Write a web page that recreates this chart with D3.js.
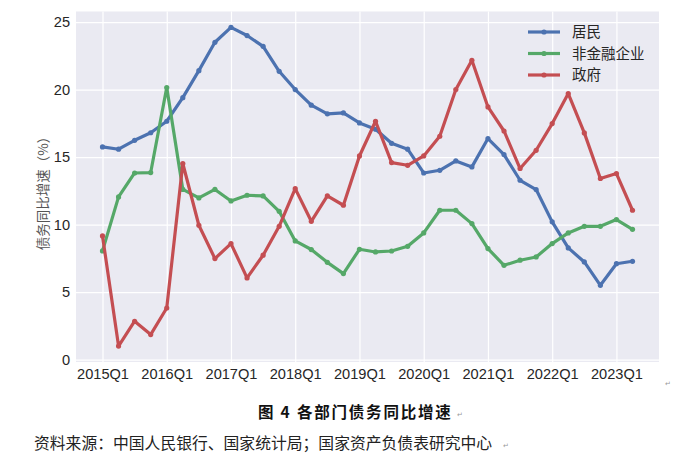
<!DOCTYPE html>
<html>
<head>
<meta charset="utf-8">
<script src="https://cdn.jsdelivr.net/npm/d3@7"></script>
<style>
  body { margin: 0; background: #fff; }
  svg { display: block; }
</style>
</head>
<body>
<div id="container"></div>
<script>
// quarters 2015Q1 .. 2023Q2
const quarters = [];
for (let y = 2015; y <= 2023; y++) {
    for (let q = 1; q <= 4; q++) {
        if (y === 2023 && q > 2) break;
        quarters.push(y + "Q" + q);
    }
}
const tickLabels = ["2015Q1", "2016Q1", "2017Q1", "2018Q1", "2019Q1", "2020Q1", "2021Q1", "2022Q1", "2023Q1"];
const yTicks = [0, 5, 10, 15, 20, 25];

// 居民
const household = [15.75, 15.58, 16.24, 16.8, 17.65, 19.4, 21.4, 23.5, 24.6, 24.0, 23.2, 21.35,
    20.0, 18.84, 18.2, 18.27, 17.53, 17.06, 16.02, 15.58, 13.82, 14.02, 14.71, 14.27,
    16.37, 15.18, 13.28, 12.59, 10.2, 8.27, 7.23, 5.5, 7.1, 7.28];
// 非金融企业
const corporate = [8.05, 12.05, 13.82, 13.85, 20.15, 12.6, 11.97, 12.6, 11.75, 12.17, 12.12, 10.98,
    8.79, 8.15, 7.2, 6.37, 8.17, 7.97, 8.04, 8.39, 9.38, 11.06, 11.06, 10.07,
    8.22, 6.98, 7.36, 7.6, 8.59, 9.38, 9.87, 9.87, 10.37, 9.65];
// 政府
const government = [9.16, 1.0, 2.84, 1.85, 3.82, 14.52, 9.95, 7.48, 8.59, 6.05, 7.73, 9.87,
    12.66, 10.24, 12.12, 11.43, 15.08, 17.65, 14.59, 14.39, 15.08, 16.54, 20.0, 22.17,
    18.71, 16.93, 14.15, 15.5, 17.48, 19.7, 16.79, 13.41, 13.78, 11.06];

const seriesNames = ["居民", "非金融企业", "政府"];
const seriesColors = ["#4C72B0", "#55A868", "#C44E52"];
const series = [household, corporate, government].map(function (vals, i) {
    return { name: seriesNames[i], color: seriesColors[i], values: vals };
});

const width = 700, height = 476;
const plot = { left: 76, right: 659, top: 11.5, bottom: 362 };

const svg = d3.select("#container").append("svg")
    .attr("width", width)
    .attr("height", height);

//----------------------------SCALES-----------------------------//
const xScale = d3.scaleLinear()
    .domain([-1.65, quarters.length - 1 + 1.65])
    .range([plot.left, plot.right]);
const yScale = d3.scaleLinear()
    .domain([-0.18, 25.78])
    .range([plot.bottom, plot.top]);

// background
svg.append("rect")
    .attr("x", plot.left).attr("y", plot.top)
    .attr("width", plot.right - plot.left)
    .attr("height", plot.bottom - plot.top)
    .attr("fill", "#EAEAF2");

//-----------------------------AXES------------------------------//
const xaxis = d3.axisBottom(xScale)
    .tickValues(tickLabels.map(function (t) { return quarters.indexOf(t); }))
    .tickFormat(function (i) { return quarters[i]; })
    .tickSize(-(plot.bottom - plot.top))
    .tickPadding(7);

const yaxis = d3.axisLeft(yScale)
    .tickValues(yTicks)
    .tickSize(-(plot.right - plot.left))
    .tickPadding(6);

function styleAxis(g) {
    g.select(".domain").remove();
    g.selectAll(".tick line").attr("stroke", "#fff").attr("stroke-width", 1.2);
    g.selectAll(".tick text")
        .attr("fill", "#262626")
        .style("font-family", "'Liberation Sans', Arial, sans-serif")
        .style("font-size", "14.6px");
}

svg.append("g")
    .attr("transform", "translate(0," + plot.bottom + ")")
    .call(xaxis)
    .call(styleAxis);

svg.append("g")
    .attr("transform", "translate(" + plot.left + ",0)")
    .call(yaxis)
    .call(styleAxis);

// y axis title
svg.append("text")
    .attr("transform", "translate(48,190) rotate(-90)")
    .attr("text-anchor", "middle")
    .attr("fill", "#555")
    .style("font-family", "'Noto Sans CJK SC', sans-serif")
    .style("font-size", "13.5px")
    .text("债务同比增速（%）");

//----------------------------LINES------------------------------//
const line = d3.line()
    .x(function (d, i) { return xScale(i); })
    .y(function (d) { return yScale(d); });

const lines = svg.selectAll(".series")
    .data(series)
    .enter()
    .append("g")
    .attr("class", "series");

lines.append("path")
    .attr("d", function (d) { return line(d.values); })
    .attr("fill", "none")
    .attr("stroke", function (d) { return d.color; })
    .attr("stroke-width", 3.2)
    .attr("stroke-linejoin", "round");

lines.selectAll("circle")
    .data(function (d) { return d.values.map(function (v) { return { v: v, c: d.color }; }); })
    .enter()
    .append("circle")
    .attr("cx", function (d, i) { return xScale(i); })
    .attr("cy", function (d) { return yScale(d.v); })
    .attr("r", 2.6)
    .attr("fill", function (d) { return d.c; });

//----------------------------LEGEND-----------------------------//
const legend = svg.append("g")
    .selectAll("g")
    .data(series)
    .enter()
    .append("g")
    .attr("transform", function (d, i) { return "translate(528," + (32 + i * 21.5) + ")"; });

legend.append("line")
    .attr("x1", 0).attr("x2", 32)
    .attr("stroke", function (d) { return d.color; })
    .attr("stroke-width", 3.2);
legend.append("circle")
    .attr("cx", 16).attr("r", 2.6)
    .attr("fill", function (d) { return d.color; });
legend.append("text")
    .attr("x", 44).attr("dy", "0.35em")
    .attr("fill", "#262626")
    .style("font-family", "'Noto Sans CJK SC', sans-serif")
    .style("font-size", "14.5px")
    .text(function (d) { return d.name; });

//----------------------------CAPTION----------------------------//
svg.append("text")
    .attr("x", 258).attr("y", 418)
    .attr("fill", "#111")
    .style("font-family", "'Noto Sans CJK SC', sans-serif")
    .style("font-weight", "bold")
    .style("font-size", "15.5px")
    .style("letter-spacing", "1.8px")
    .text("图 4 各部门债务同比增速");

svg.append("text")
    .attr("x", 34).attr("y", 449)
    .attr("fill", "#222")
    .style("font-family", "'Noto Sans CJK SC', sans-serif")
    .style("font-size", "15.8px")
    .text("资料来源：中国人民银行、国家统计局；国家资产负债表研究中心");

// paragraph marks
const marks = [[457, 417], [503, 448], [665, 386]];
svg.selectAll(".mark")
    .data(marks)
    .enter()
    .append("text")
    .attr("class", "mark")
    .attr("x", function (d) { return d[0]; })
    .attr("y", function (d) { return d[1]; })
    .attr("fill", "#999")
    .style("font-family", "'DejaVu Sans', sans-serif")
    .style("font-size", "7px")
    .text("↵");
</script>
</body>
</html>
